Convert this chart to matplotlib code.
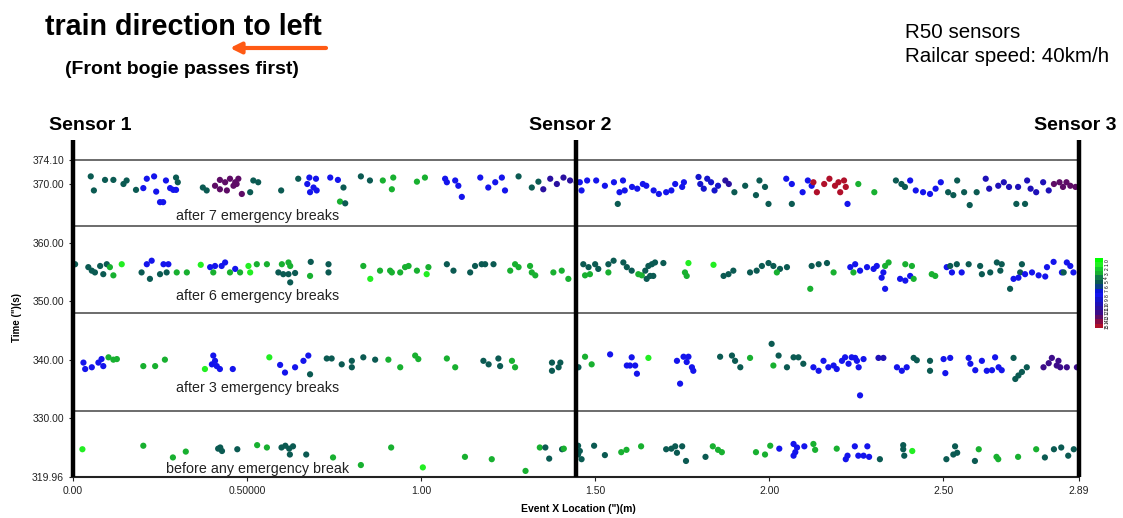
import matplotlib

matplotlib.use("Agg")
import matplotlib.pyplot as plt
from matplotlib.colors import ListedColormap

plt.rcParams["font.family"] = ["Liberation Sans", "DejaVu Sans"]

# Event level colour scale (0 = top of the colour bar, 15 = bottom)
level_colors = [
    "#00ff00", "#22ee22", "#14cc2a", "#18b030", "#0f7a4a", "#0b5a52",
    "#0a3f86", "#0a14dc", "#1414ec", "#1414cc", "#1e10b8", "#2a10a0",
    "#3c0c8a", "#5e0c66", "#880c44", "#b0102a",
]
level_ticks = list(range(16))

x_ticks = [0.0, 0.5, 1.0, 1.5, 2.0, 2.5, 2.89]
x_tick_labels = ["0.00", "0.50000", "1.00", "1.50", "2.00", "2.50", "2.89"]
y_ticks = [319.96, 330.0, 340.0, 350.0, 360.0, 370.0, 374.10]
y_tick_labels = ["319.96", "330.00", "340.00", "350.00", "360.00", "370.00", "374.10"]

sensor_x = [0.0, 1.445, 2.89]
sensor_names = ["Sensor 1", "Sensor 2", "Sensor 3"]
band_edges = [362.8, 347.95, 331.25]
band_labels = [
    "after 7 emergency breaks",
    "after 6 emergency breaks",
    "after 3 emergency breaks",
    "before any emergency break",
]
band_label_y = [364.5, 350.9, 335.1, 321.3]

# (x location m, time s, level)
after_7 = [
    (0.051, 371.3, 5), (0.060, 368.9, 5), (0.092, 370.7, 5), (0.116, 370.7, 5),
    (0.145, 370.0, 5), (0.154, 370.6, 5), (0.181, 369.0, 5), (0.202, 369.3, 8),
    (0.212, 370.9, 8), (0.233, 371.3, 8), (0.239, 368.7, 8), (0.267, 370.6, 8),
    (0.296, 371.1, 5), (0.301, 370.3, 5), (0.279, 369.3, 8), (0.288, 369.0, 8),
    (0.296, 369.0, 8), (0.250, 366.9, 8), (0.259, 366.9, 8), (0.373, 369.4, 5),
    (0.384, 368.9, 5), (0.408, 369.7, 13), (0.422, 370.7, 13), (0.437, 370.3, 13),
    (0.451, 370.9, 13), (0.466, 370.3, 13), (0.475, 370.9, 13), (0.422, 369.1, 13),
    (0.442, 368.9, 13), (0.461, 369.7, 13), (0.470, 370.0, 13), (0.485, 368.3, 13),
    (0.509, 368.6, 5), (0.518, 370.6, 5), (0.532, 370.3, 5), (0.598, 368.9, 5),
    (0.647, 370.9, 5), (0.679, 371.1, 8), (0.698, 370.9, 8), (0.673, 370.0, 8),
    (0.691, 369.4, 8), (0.681, 368.6, 8), (0.700, 368.9, 8), (0.739, 371.1, 8),
    (0.761, 370.7, 8), (0.777, 369.4, 5), (0.767, 367.0, 3), (0.782, 366.7, 5),
    (0.827, 371.3, 5), (0.853, 370.6, 5), (0.890, 370.6, 3), (0.916, 369.1, 3),
    (0.920, 371.1, 3), (0.988, 370.4, 3), (1.011, 371.1, 3), (1.069, 370.9, 8),
    (1.074, 370.3, 8), (1.098, 370.6, 8), (1.107, 369.7, 8), (1.117, 367.8, 8),
    (1.170, 371.1, 8), (1.193, 369.4, 8), (1.213, 370.3, 8), (1.232, 371.1, 8),
    (1.241, 368.9, 8), (1.280, 371.3, 5), (1.318, 369.4, 5), (1.337, 370.4, 5),
    (1.351, 369.1, 11), (1.371, 370.9, 11), (1.390, 370.0, 11), (1.409, 371.1, 11),
    (1.428, 370.6, 11), (1.447, 370.3, 11), (1.456, 370.3, 8), (1.461, 368.9, 8),
    (1.477, 370.6, 8), (1.565, 366.6, 5), (1.503, 370.6, 8), (1.528, 369.7, 8),
    (1.554, 370.3, 8), (1.570, 368.6, 8), (1.580, 370.6, 8), (1.585, 368.9, 8),
    (1.606, 369.5, 8), (1.621, 369.2, 8), (1.637, 370.0, 8), (1.647, 369.7, 8),
    (1.668, 368.9, 8), (1.683, 368.3, 8), (1.704, 368.6, 8), (1.719, 368.9, 8),
    (1.730, 370.0, 8), (1.750, 369.5, 8), (1.755, 370.3, 8), (1.797, 371.2, 9),
    (1.802, 370.0, 9), (1.812, 369.2, 9), (1.822, 370.9, 9), (1.833, 370.3, 9),
    (1.843, 368.9, 9), (1.853, 369.7, 9), (1.874, 370.6, 11), (1.884, 370.0, 11),
    (1.900, 368.6, 5), (1.931, 369.7, 5), (1.972, 370.6, 5), (1.988, 369.5, 5),
    (1.962, 368.1, 5), (1.998, 366.6, 5), (2.065, 366.6, 5), (2.049, 370.9, 8),
    (2.065, 370.0, 8), (2.096, 368.6, 8), (2.111, 370.6, 8), (2.122, 369.7, 8),
    (2.225, 366.6, 8), (2.127, 370.3, 15), (2.137, 368.6, 15), (2.158, 370.0, 15),
    (2.173, 370.9, 15), (2.189, 369.7, 15), (2.199, 370.3, 15), (2.215, 370.6, 15),
    (2.204, 368.6, 15), (2.220, 369.5, 15), (2.256, 370.0, 3), (2.302, 368.6, 3),
    (2.364, 370.6, 5), (2.380, 370.0, 5), (2.390, 369.5, 5), (2.405, 370.6, 8),
    (2.421, 368.9, 8), (2.442, 368.6, 8), (2.462, 368.3, 8), (2.478, 369.2, 8),
    (2.493, 370.3, 8), (2.514, 368.6, 5), (2.529, 368.1, 5), (2.540, 370.6, 5),
    (2.560, 368.6, 5), (2.576, 366.4, 5), (2.596, 368.6, 5), (2.622, 370.9, 10),
    (2.632, 369.2, 10), (2.658, 369.7, 10), (2.674, 370.3, 10), (2.689, 369.5, 10),
    (2.710, 366.6, 5), (2.735, 366.6, 5), (2.715, 369.5, 10), (2.741, 370.6, 10),
    (2.751, 369.2, 10), (2.767, 368.6, 10), (2.787, 370.3, 10), (2.803, 368.9, 10),
    (2.818, 370.0, 13), (2.834, 370.3, 13), (2.844, 369.5, 13), (2.854, 370.3, 13),
    (2.865, 369.7, 13), (2.880, 369.5, 13),
]

after_6 = [
    (0.006, 356.3, 5), (0.044, 355.8, 5), (0.054, 355.2, 5), (0.063, 354.9, 5),
    (0.078, 356.0, 5), (0.087, 354.6, 5), (0.097, 356.3, 5), (0.106, 355.8, 3),
    (0.116, 354.4, 3), (0.140, 356.3, 1), (0.197, 354.9, 5), (0.212, 356.3, 8),
    (0.226, 356.9, 8), (0.221, 353.8, 5), (0.260, 356.3, 8), (0.274, 356.3, 8),
    (0.250, 354.6, 5), (0.269, 354.9, 5), (0.298, 354.9, 3), (0.327, 354.9, 3),
    (0.367, 356.2, 1), (0.394, 355.8, 8), (0.408, 356.0, 8), (0.427, 356.0, 8),
    (0.437, 356.6, 8), (0.403, 354.9, 3), (0.451, 354.9, 3), (0.466, 355.5, 8),
    (0.480, 354.9, 3), (0.504, 356.0, 1), (0.509, 354.9, 1), (0.528, 356.3, 3),
    (0.557, 356.3, 3), (0.600, 356.3, 3), (0.619, 356.6, 3), (0.624, 356.0, 3),
    (0.590, 354.9, 5), (0.604, 354.6, 5), (0.619, 354.6, 5), (0.638, 354.8, 5),
    (0.624, 353.2, 5), (0.683, 356.7, 5), (0.681, 354.3, 3), (0.734, 356.3, 5),
    (0.734, 354.9, 5), (0.834, 356.0, 3), (0.854, 353.8, 1), (0.882, 355.2, 3),
    (0.911, 355.2, 3), (0.916, 354.9, 3), (0.940, 354.9, 3), (0.954, 355.8, 3),
    (0.964, 356.0, 3), (0.988, 355.2, 3), (1.021, 355.8, 3), (1.016, 354.6, 1),
    (1.074, 356.3, 5), (1.093, 355.2, 5), (1.141, 354.9, 5), (1.155, 356.0, 5),
    (1.174, 356.3, 5), (1.184, 356.3, 5), (1.208, 356.3, 5), (1.256, 355.2, 3),
    (1.270, 356.3, 3), (1.280, 355.8, 3), (1.313, 356.0, 3), (1.318, 354.9, 3),
    (1.328, 354.4, 3), (1.380, 354.9, 3), (1.404, 355.2, 3), (1.423, 353.8, 3),
    (1.466, 356.3, 5), (1.481, 355.8, 5), (1.500, 356.3, 5), (1.509, 355.5, 5),
    (1.471, 354.4, 3), (1.485, 354.6, 3), (1.538, 356.3, 5), (1.553, 356.9, 5),
    (1.581, 356.6, 5), (1.591, 355.8, 5), (1.605, 355.2, 5), (1.538, 354.9, 3),
    (1.624, 354.6, 3), (1.634, 354.4, 3), (1.644, 355.2, 5), (1.653, 356.0, 5),
    (1.663, 356.3, 5), (1.672, 356.6, 5), (1.658, 354.3, 5), (1.648, 353.8, 5),
    (1.667, 354.3, 5), (1.696, 356.5, 5), (1.758, 354.9, 3), (1.763, 354.3, 3),
    (1.768, 356.5, 1), (1.840, 356.2, 1), (1.869, 354.3, 5), (1.883, 354.6, 5),
    (1.897, 355.2, 5), (1.945, 354.9, 5), (1.964, 355.2, 5), (1.979, 356.0, 5),
    (1.998, 356.5, 5), (2.012, 356.0, 5), (2.031, 355.5, 5), (2.051, 355.8, 5),
    (2.022, 354.9, 3), (2.122, 356.0, 5), (2.142, 356.3, 5), (2.166, 356.5, 5),
    (2.118, 352.1, 3), (2.185, 354.9, 3), (2.233, 355.8, 8), (2.247, 356.3, 8),
    (2.261, 355.2, 8), (2.281, 355.8, 8), (2.300, 355.5, 8), (2.309, 356.0, 8),
    (2.242, 354.9, 3), (2.333, 356.0, 3), (2.343, 356.6, 3), (2.328, 354.9, 8),
    (2.323, 354.0, 8), (2.333, 352.1, 8), (2.376, 353.8, 8), (2.391, 353.5, 8),
    (2.405, 354.3, 8), (2.391, 356.3, 3), (2.410, 356.0, 3), (2.415, 353.8, 3),
    (2.467, 354.6, 3), (2.477, 354.3, 3), (2.510, 355.8, 8), (2.525, 354.9, 8),
    (2.553, 354.9, 8), (2.520, 356.0, 5), (2.539, 356.3, 5), (2.573, 356.3, 5),
    (2.606, 356.0, 5), (2.611, 354.6, 5), (2.635, 354.9, 5), (2.654, 356.6, 5),
    (2.668, 356.3, 5), (2.664, 355.2, 5), (2.692, 352.1, 5), (2.726, 356.3, 5),
    (2.721, 354.9, 5), (2.702, 353.8, 8), (2.716, 354.0, 8), (2.735, 354.6, 8),
    (2.755, 354.9, 8), (2.774, 354.4, 8), (2.793, 354.2, 8), (2.798, 355.8, 8),
    (2.817, 356.7, 8), (2.841, 354.9, 8), (2.855, 356.6, 8), (2.865, 356.0, 8),
    (2.874, 354.9, 8), (2.846, 354.9, 5),
]

after_3 = [
    (0.030, 339.5, 8), (0.035, 338.4, 8), (0.054, 338.7, 8), (0.073, 339.5, 8),
    (0.082, 340.1, 8), (0.087, 338.9, 8), (0.102, 340.4, 3), (0.116, 340.0, 3),
    (0.126, 340.1, 3), (0.202, 338.9, 3), (0.236, 338.9, 3), (0.264, 340.0, 3),
    (0.403, 340.7, 8), (0.399, 339.2, 8), (0.413, 338.9, 8), (0.422, 338.4, 8),
    (0.408, 339.8, 8), (0.379, 338.4, 1), (0.459, 338.4, 8), (0.564, 340.4, 1),
    (0.595, 339.1, 8), (0.609, 337.8, 8), (0.638, 338.7, 8), (0.662, 339.8, 8),
    (0.676, 340.7, 8), (0.681, 337.5, 5), (0.729, 340.2, 5), (0.743, 340.2, 5),
    (0.772, 339.2, 5), (0.801, 339.8, 5), (0.801, 338.7, 5), (0.834, 340.4, 5),
    (0.868, 340.0, 5), (0.906, 340.0, 3), (0.940, 338.7, 3), (0.983, 340.7, 3),
    (0.992, 340.1, 3), (1.074, 340.2, 3), (1.098, 338.7, 3), (1.179, 339.8, 5),
    (1.194, 339.2, 5), (1.222, 340.2, 5), (1.227, 338.9, 5), (1.261, 339.8, 3),
    (1.270, 338.7, 3), (1.376, 339.5, 5), (1.376, 338.1, 5), (1.400, 339.5, 5),
    (1.395, 338.7, 5), (1.452, 338.7, 5), (1.471, 340.5, 3), (1.490, 339.2, 3),
    (1.543, 340.9, 8), (1.591, 339.0, 8), (1.605, 340.4, 8), (1.615, 339.0, 8),
    (1.620, 337.6, 8), (1.600, 339.0, 8), (1.653, 340.3, 1), (1.735, 339.8, 8),
    (1.744, 335.9, 8), (1.754, 340.5, 8), (1.763, 339.6, 8), (1.768, 340.5, 8),
    (1.778, 338.7, 8), (1.782, 338.1, 8), (1.859, 340.5, 5), (1.893, 340.7, 5),
    (1.902, 339.8, 5), (1.917, 338.7, 5), (1.945, 340.3, 3), (2.007, 342.7, 5),
    (2.027, 340.7, 5), (2.051, 338.7, 5), (2.070, 340.4, 5), (2.084, 340.4, 5),
    (2.098, 339.3, 5), (2.012, 339.0, 3), (2.127, 338.7, 8), (2.142, 338.1, 8),
    (2.156, 339.8, 8), (2.170, 338.7, 8), (2.185, 339.0, 8), (2.194, 338.4, 8),
    (2.209, 339.8, 8), (2.218, 340.4, 8), (2.228, 339.3, 8), (2.237, 340.4, 8),
    (2.247, 340.3, 8), (2.257, 338.7, 8), (2.261, 333.9, 8), (2.252, 339.8, 8),
    (2.271, 340.1, 8), (2.314, 340.3, 10), (2.328, 340.3, 10), (2.367, 338.7, 8),
    (2.381, 338.1, 8), (2.395, 338.7, 8), (2.415, 340.3, 5), (2.424, 339.9, 5),
    (2.462, 339.8, 5), (2.462, 338.1, 5), (2.501, 340.1, 8), (2.520, 340.3, 8),
    (2.506, 337.7, 8), (2.573, 340.3, 8), (2.578, 339.3, 8), (2.592, 338.2, 8),
    (2.611, 339.8, 8), (2.625, 338.1, 8), (2.649, 340.4, 8), (2.659, 338.7, 8),
    (2.668, 338.2, 8), (2.640, 338.2, 8), (2.702, 340.3, 5), (2.716, 337.3, 5),
    (2.726, 337.9, 5), (2.740, 338.7, 5), (2.707, 336.7, 5), (2.788, 338.7, 12),
    (2.803, 339.4, 12), (2.812, 340.3, 12), (2.831, 339.8, 12), (2.836, 338.7, 12),
    (2.855, 338.7, 12), (2.884, 338.7, 12), (2.826, 339.0, 12),
]

before_any = [
    (0.027, 324.7, 1), (0.202, 325.3, 3), (0.287, 323.3, 3), (0.324, 324.3, 3),
    (0.417, 324.8, 5), (0.428, 324.4, 5), (0.423, 325.0, 5), (0.472, 324.7, 5),
    (0.529, 325.4, 3), (0.557, 325.0, 3), (0.599, 325.0, 5), (0.610, 325.3, 5),
    (0.621, 324.8, 5), (0.632, 325.2, 5), (0.623, 323.8, 5), (0.670, 323.8, 5),
    (0.747, 323.3, 3), (0.827, 322.0, 3), (0.914, 325.0, 3), (1.005, 321.6, 1),
    (1.126, 323.4, 3), (1.203, 323.0, 3), (1.300, 321.0, 3), (1.341, 325.0, 3),
    (1.357, 325.0, 5), (1.368, 323.1, 5), (1.405, 324.7, 5), (1.410, 324.8, 3),
    (1.451, 325.3, 5), (1.456, 324.4, 5), (1.451, 323.8, 5), (1.461, 323.0, 5),
    (1.497, 325.3, 5), (1.528, 323.7, 5), (1.575, 324.2, 3), (1.590, 324.6, 3),
    (1.632, 325.2, 3), (1.704, 324.7, 5), (1.719, 324.8, 5), (1.730, 325.2, 5),
    (1.750, 325.2, 5), (1.735, 324.1, 5), (1.761, 322.7, 5), (1.817, 323.4, 5),
    (1.838, 325.2, 3), (1.853, 324.6, 3), (1.864, 324.2, 3), (1.962, 324.2, 3),
    (1.988, 323.8, 3), (2.003, 325.3, 3), (2.029, 324.8, 8), (2.070, 325.6, 8),
    (2.080, 325.0, 8), (2.101, 325.2, 8), (2.075, 324.2, 8), (2.070, 323.6, 8),
    (2.127, 325.6, 3), (2.132, 324.6, 3), (2.194, 324.8, 3), (2.220, 323.0, 8),
    (2.225, 323.6, 8), (2.246, 325.2, 8), (2.256, 323.6, 8), (2.271, 323.6, 8),
    (2.282, 325.2, 8), (2.287, 323.4, 8), (2.318, 323.0, 5), (2.385, 325.4, 5),
    (2.388, 323.6, 5), (2.385, 324.7, 5), (2.411, 324.4, 1), (2.509, 323.0, 5),
    (2.529, 323.8, 5), (2.534, 325.2, 5), (2.540, 324.1, 5), (2.591, 322.7, 5),
    (2.602, 324.7, 3), (2.653, 323.4, 3), (2.658, 323.0, 3), (2.715, 323.4, 3),
    (2.767, 324.7, 3), (2.792, 323.3, 5), (2.818, 324.7, 5), (2.839, 325.0, 5),
    (2.859, 323.6, 5), (2.875, 324.7, 5),
]

bands = [after_7, after_6, after_3, before_any]

W, H = 1123, 518
fig = plt.figure(figsize=(W / 100, H / 100), dpi=100)
ax = fig.add_axes([73 / W, 1 - 477 / H, 1006 / W, 317 / H])
cmap = ListedColormap(level_colors)

for events in bands:
    xs = [e[0] for e in events]
    ys = [e[1] for e in events]
    cs = [e[2] for e in events]
    sc = ax.scatter(xs, ys, c=cs, cmap=cmap, vmin=-0.5, vmax=15.5,
                    s=20, linewidths=0, zorder=3)

ax.set_xlim(x_ticks[0], x_ticks[-1])
ax.set_ylim(y_ticks[0], y_ticks[-1])
ax.set_xticks(x_ticks)
ax.set_xticklabels(x_tick_labels)
ax.set_yticks(y_ticks)
ax.set_yticklabels(y_tick_labels)
ax.tick_params(labelsize=7.5, length=3, width=0.8, colors="#222222")

for side in ["left", "right"]:
    ax.spines[side].set_visible(False)
ax.spines["top"].set_color("#606060")
ax.spines["top"].set_linewidth(1.3)
ax.spines["bottom"].set_color("#222222")
ax.spines["bottom"].set_linewidth(1.5)

# Band separators
ax.hlines(band_edges, x_ticks[0], x_ticks[-1], colors="#606060", linewidth=1.3, zorder=2)

# Sensor lines run a little above the plot
y_top = y_ticks[-1] + 3.4
for sx in sensor_x:
    ax.plot([sx, sx], [y_ticks[0], y_top], color="black", lw=3.2,
            clip_on=False, solid_capstyle="butt", zorder=4)

for label, ly in zip(band_labels, band_label_y):
    ax.text(0.529, ly, label, ha="center", va="center", fontsize=10.3, color="#222222")

# Sensor names
for name, px in zip(sensor_names, [90, 570, 1075]):
    fig.text(px / W, 1 - 125 / H, name, ha="center", va="center",
             fontsize=14, fontweight="bold")

fig.text(17 / W, 1 - 318 / H, 'Time (")(s)', rotation=90, ha="center",
         va="center", fontsize=7, fontweight="bold")
fig.text(578 / W, 1 - 509 / H, 'Event X Location (")(m)', ha="center",
         va="center", fontsize=7.5, fontweight="bold")

# Header
fig.text(45 / W, 1 - 27 / H, "train direction to left", ha="left", va="center",
         fontsize=20.6, fontweight="bold")
fig.text(65 / W, 1 - 70 / H, "(Front bogie passes first)", ha="left",
         va="center", fontsize=14, fontweight="bold")
fig.text(905 / W, 1 - 33 / H, "R50 sensors", ha="left", va="center", fontsize=14.8)
fig.text(905 / W, 1 - 57 / H, "Railcar speed: 40km/h", ha="left", va="center",
         fontsize=14.8)
ax.annotate("", xy=(230 / W, 1 - 48 / H), xytext=(326 / W, 1 - 48 / H),
            xycoords="figure fraction", textcoords="figure fraction",
            annotation_clip=False,
            arrowprops=dict(arrowstyle="-|>", color="#ff5a14", lw=3,
                            mutation_scale=16, shrinkA=0, shrinkB=0))

# Level colour bar
cax = fig.add_axes([1095 / W, 1 - 328 / H, 8 / W, 70 / H])
cb = fig.colorbar(sc, cax=cax, ticks=level_ticks)
cax.invert_yaxis()
cb.outline.set_visible(False)
cax.tick_params(labelsize=3.5, length=0, pad=1)
for t in cax.get_yticklabels():
    t.set_rotation(90)
    t.set_va("center")

fig.savefig("out.png", dpi=100)
